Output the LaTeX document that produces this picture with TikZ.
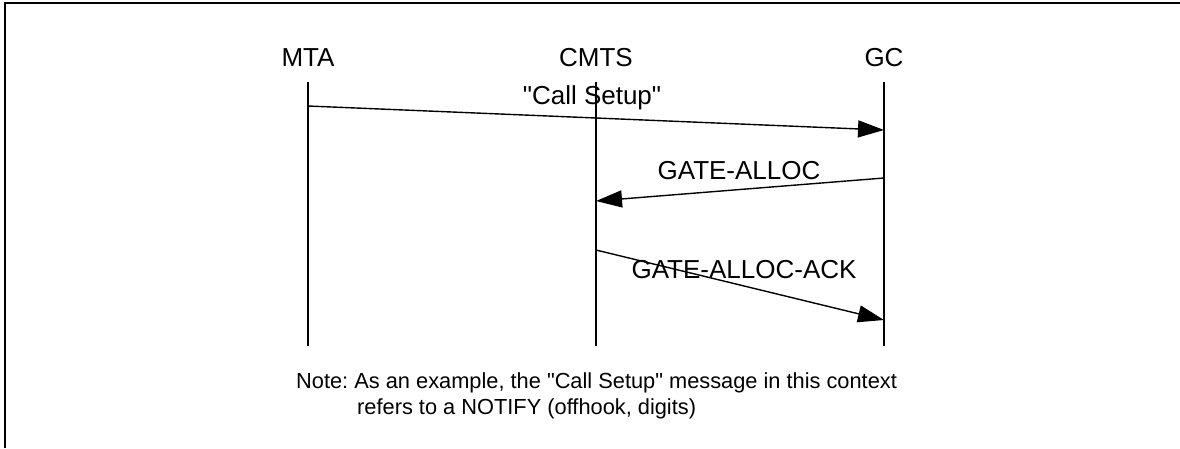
\documentclass[tikz,border=0pt]{standalone}
\usepackage{fontspec}
\setmainfont{Liberation Sans}[Ligatures=TeXOff]
\usetikzlibrary{arrows.meta}
\frenchspacing
\tikzset{
  lbl/.style={inner sep=0pt, font=\fontsize{26}{30}\selectfont},
  notetxt/.style={inner sep=0pt, anchor=west, font=\fontsize{21.8}{25}\selectfont},
  life/.style={line width=1.4pt},
  msg/.style={line width=1.4pt, -{Triangle[length=26pt,width=17pt]}},
  frame/.style={line width=2.5pt}
}
\begin{document}
\begin{tikzpicture}[x=1pt,y=-1pt]
\useasboundingbox (0,0) rectangle (1180,448);
\draw[frame] (5,448) -- (5,3) -- (1180,3);
% participants
\node[lbl] (mta) at (308,58) {MTA};
\node[lbl] (cmts) at (596,58) {CMTS};
\node[lbl] (gc) at (884,58) {GC};
% lifelines
\coordinate (mtaT) at (308,82); \coordinate (mtaB) at (308,346);
\coordinate (cmtsT) at (596,82); \coordinate (cmtsB) at (596,346);
\coordinate (gcT) at (884,82); \coordinate (gcB) at (884,346);
\draw[life] (mtaT) -- (mtaB);
\draw[life] (cmtsT) -- (cmtsB);
\draw[life] (gcT) -- (gcB);
% messages
\coordinate (m1s) at (308,106); \coordinate (m1e) at (884,130);
\coordinate (m2s) at (884,178); \coordinate (m2e) at (596,201);
\coordinate (m3s) at (596,250); \coordinate (m3e) at (884,320);
\draw[msg] (m1s) -- (m1e);
\draw[msg] (m2s) -- (m2e);
\draw[msg] (m3s) -- (m3e);
\node[lbl] (l1) at (592,98) {"Call Setup"};
\node[lbl] (l2) at (739,171) {GATE-ALLOC};
\node[lbl] (l3) at (744,270) {GATE-ALLOC-ACK};
% note
\node[notetxt] (n1) at (296,383) {Note: As an example, the "Call Setup" message in this context};
\node[notetxt] (n2) at (357,409) {refers to a NOTIFY (offhook, digits)};
\end{tikzpicture}
\end{document}
